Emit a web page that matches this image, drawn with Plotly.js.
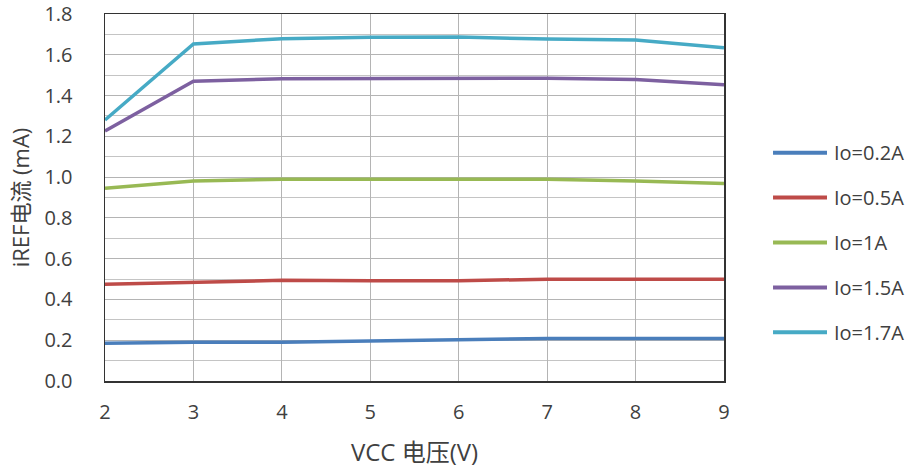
<!DOCTYPE html>
<html>
<head>
<meta charset="utf-8">
<script src="https://cdn.plot.ly/plotly-3.0.1.min.js"></script>
<style>html,body{margin:0;padding:0;background:#fff;}#chart{width:906px;height:470px;}</style>
</head>
<body>
<div id="chart"></div>
<script>
const vcc = [2, 3, 4, 5, 6, 7, 8, 9];
const seriesNames = ["Io=0.2A", "Io=0.5A", "Io=1A", "Io=1.5A", "Io=1.7A"];
const io02 = [0.185, 0.190, 0.190, 0.195, 0.203, 0.209, 0.209, 0.209];
const io05 = [0.474, 0.486, 0.494, 0.492, 0.492, 0.499, 0.499, 0.499];
const io10 = [0.945, 0.981, 0.989, 0.990, 0.990, 0.990, 0.981, 0.969];
const io15 = [1.226, 1.470, 1.483, 1.485, 1.485, 1.485, 1.479, 1.453];
const io17 = [1.280, 1.653, 1.679, 1.686, 1.687, 1.677, 1.672, 1.635];
const colors = ["#4A7EBB", "#BE4B48", "#98B954", "#7D60A0", "#46AAC5"];
const yTicks = [0, 0.2, 0.4, 0.6, 0.8, 1.0, 1.2, 1.4, 1.6, 1.8];

const allY = [io02, io05, io10, io15, io17];
const font = "'Open Sans', 'Noto Sans CJK SC', sans-serif";
const txt = "#404040";
const traces = allY.map((y, i) => ({
  x: vcc, y: y, name: seriesNames[i], type: "scatter", mode: "lines",
  line: {color: colors[i], width: 3.5}, showlegend: false
}));

// custom legend (positions in paper coordinates)
const legTop = 0.622, legStep = 0.1223;
const shapes = seriesNames.map((n, i) => ({
  type: "line", xref: "paper", yref: "paper",
  x0: 1.0792, x1: 1.1664, y0: legTop - i * legStep, y1: legTop - i * legStep,
  line: {color: colors[i], width: 4}
}));
const annotations = seriesNames.map((n, i) => ({
  text: n, xref: "paper", yref: "paper", x: 1.1745, y: legTop - i * legStep,
  xanchor: "left", yanchor: "middle", showarrow: false,
  font: {family: font, size: 20, color: txt}
}));

const layout = {
  width: 906, height: 470,
  margin: {l: 105, r: 182, t: 14, b: 89},
  paper_bgcolor: "#fff", plot_bgcolor: "#fff",
  font: {family: font, color: txt, size: 20},
  showlegend: false,
  shapes: shapes,
  annotations: annotations,
  xaxis: {range: [2, 9], dtick: 1, tick0: 2, showgrid: true, gridcolor: "#b4b4b4", gridwidth: 1,
          showline: true, linecolor: "#333", linewidth: 1.5, mirror: true, ticks: "",
          zeroline: false, ticklabelstandoff: 12,
          tickfont: {family: font, size: 20, color: txt},
          title: {text: "VCC 电压(V)", font: {family: font, size: 24, color: txt}, standoff: 20}},
  yaxis: {range: [0, 1.8], tickvals: yTicks, ticktext: yTicks.map(v => v.toFixed(1)),
          showgrid: true, gridcolor: "#b4b4b4", gridwidth: 1,
          minor: {dtick: 0.1, tick0: 0, showgrid: true, gridcolor: "#c4c4c4", gridwidth: 1},
          showline: true, linecolor: "#333", linewidth: 1.5, mirror: true, ticks: "",
          zeroline: false, ticklabelstandoff: 27,
          tickfont: {family: font, size: 20, color: txt},
          title: {text: "iREF电流 (mA)", font: {family: font, size: 22, color: txt}, standoff: 8}}
};
Plotly.newPlot("chart", traces, layout, {displayModeBar: false, staticPlot: true});
</script>
</body>
</html>
